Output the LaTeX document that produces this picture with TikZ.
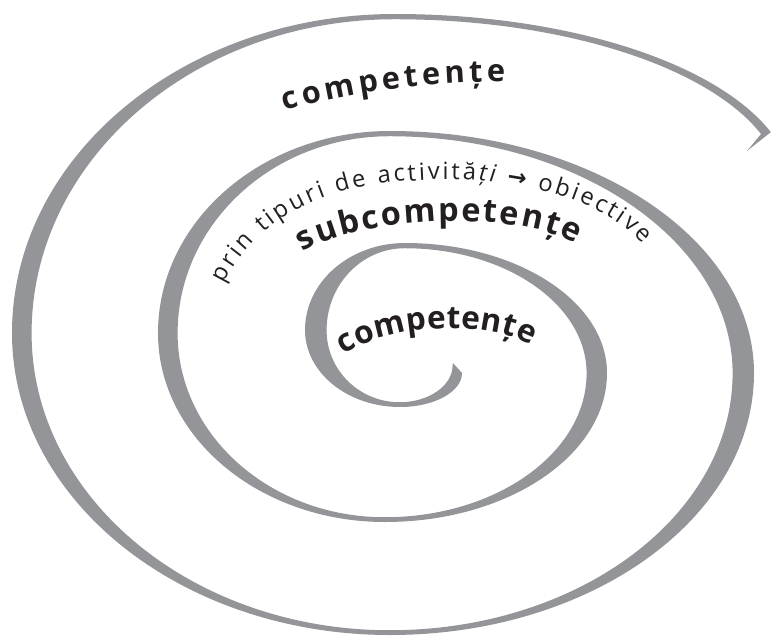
\documentclass[tikz,border=0pt]{standalone}
\usepackage{fontspec}
\setmainfont{Open Sans}
\newfontfamily\arrowfont{DejaVu Sans}
\usetikzlibrary{decorations.text}

\definecolor{spiralgray}{RGB}{148,149,153}
\definecolor{inkblack}{RGB}{35,31,32}
\newcommand\outerword{\normalfont\bfseries\fontsize{17.5}{19}\selectfont}
\newcommand\middleword{\normalfont\bfseries\fontsize{18.5}{20}\selectfont}
\newcommand\innerword{\normalfont\bfseries\fontsize{18}{20}\selectfont}
\newcommand\lighttext{\normalfont\fontsize{13.5}{15}\selectfont}
\newcommand\arrowtext{\normalfont\arrowfont\bfseries\fontsize{13}{15}\selectfont}

\begin{document}
\begin{tikzpicture}[x=0.02cm,y=0.02cm,line join=round,
  curvetext/.style={decorate,decoration={text along path,text align=fit to path,
    text color=inkblack,text={#1}}}]
\useasboundingbox (-390,-297) rectangle (381,340);
% the band: outer rim from the hook to the barb, then back on the inner rim
\fill[spiralgray] (63,-23) -- (72,-33)
  arc[start angle=0,end angle=-90,x radius=62,y radius=34]
  arc[start angle=-90,end angle=-180,x radius=95,y radius=77]
  arc[start angle=180,end angle=90,x radius=100,y radius=87]
  arc[start angle=90,end angle=0,x radius=202,y radius=130]
  arc[start angle=0,end angle=-90,x radius=222,y radius=149]
  arc[start angle=-90,end angle=-180,x radius=227,y radius=189]
  arc[start angle=180,end angle=90,x radius=232,y radius=202]
  arc[start angle=90,end angle=0,x radius=364,y radius=242]
  arc[start angle=0,end angle=-90,x radius=364,y radius=262]
  arc[start angle=-90,end angle=-180,x radius=378,y radius=302]
  arc[start angle=180,end angle=90,x radius=383,y radius=319]
  arc[start angle=90,end angle=19.2,x radius=398,y radius=176]
  -- (357,189) -- (371,206)
  arc[start angle=19.2,end angle=90,x radius=388,y radius=171]
  arc[start angle=90,end angle=180,x radius=363,y radius=314]
  arc[start angle=180,end angle=270,x radius=358,y radius=297]
  arc[start angle=270,end angle=360,x radius=343,y radius=257]
  arc[start angle=0,end angle=90,x radius=343,y radius=237]
  arc[start angle=90,end angle=180,x radius=212,y radius=197]
  arc[start angle=180,end angle=270,x radius=207,y radius=184]
  arc[start angle=270,end angle=360,x radius=202,y radius=144]
  arc[start angle=0,end angle=90,x radius=182,y radius=125]
  arc[start angle=90,end angle=180,x radius=78,y radius=82]
  arc[start angle=180,end angle=270,x radius=73,y radius=72]
  arc[start angle=270,end angle=360,x radius=53,y radius=37] -- cycle;

% labels between the turns
\path[curvetext={|\outerword|competențe}]
  (-105,229) .. controls (-40,248) and (50,260) .. (115,258);
\path[curvetext={|\lighttext|prin tipuri de activită|\lighttext\itshape|ți|\lighttext| |\arrowtext|→|\lighttext| obiective}]
  (-166,56) .. controls (-140,110) and (-80,155) .. (20,159)
  .. controls (110,166) and (205,148) .. (253,96);
\path[curvetext={|\middleword|subcompetențe}]
  (-87,88) .. controls (-45,118) and (115,135) .. (186,96);
\path[curvetext={|\innerword|competențe}]
  (-46,-15) .. controls (-3,15) and (93,22) .. (141,-5);
\end{tikzpicture}
\end{document}
